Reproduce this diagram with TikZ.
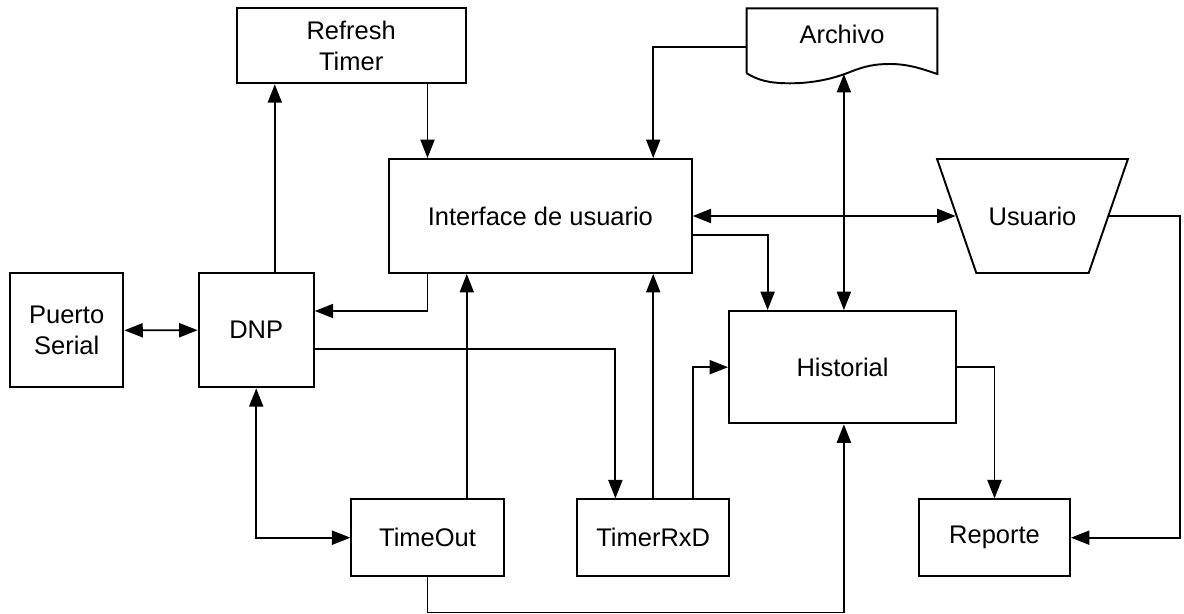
\documentclass[tikz,border=0pt]{standalone}
\usepackage{fontspec}
\setmainfont{Liberation Sans}
\usetikzlibrary{arrows.meta,shapes.geometric}

\begin{document}
\begin{tikzpicture}[
  x=0.02cm, y=-0.02cm,
  font=\fontsize{14.5}{17.7}\selectfont,
  box/.style={
    draw,
    line width=1.1pt,
    inner sep=0pt,
    align=center
  },
  arrow/.style={-{Triangle[length=10.5pt,width=8pt]},line width=1.1pt},
  biarrow/.style={{Triangle[length=10.5pt,width=8pt]}-{Triangle[length=10.5pt,width=8pt]},line width=1.1pt}
]
\useasboundingbox (0,0) rectangle (1184,614);
\node[box, minimum width=4.586cm, minimum height=1.5cm] (refresh) at (351.2,45.8) {Refresh\\Timer};
\node[box, minimum width=6.054cm, minimum height=2.28cm] (interface) at (540.35,216) {Interface de usuario};
\node[box, trapezium, trapezium left angle=71, trapezium right angle=71,
  shape border rotate=180, text width=2.248cm,
  text height=1.326cm, text depth=0.954cm] (usuario) at (1032.5,216) {Usuario};
\node[box, minimum width=2.266cm, minimum height=2.28cm] (puerto) at (66.7,330.3) {Puerto\\Serial};
\node[box, minimum width=2.304cm, minimum height=2.286cm] (dnp) at (256.2,330.2) {DNP};
\node[box, minimum width=4.54cm, minimum height=2.246cm] (historial) at (842.5,367.2) {Historial};
\node[box, minimum width=3.046cm, minimum height=1.534cm] (timeout) at (427.5,537.7) {TimeOut};
\node[box, minimum width=3.05cm, minimum height=1.534cm] (timerrxd) at (653.2,537.7) {TimerRxD};
\node[box, minimum width=3.02cm, minimum height=1.534cm] (reporte) at (994.5,537.7) {Reporte};
% archivo (documento)
\node (archivo) at (842,34) {Archivo};
\draw[line width=1.1pt] (746.7,73.3) -- (746.7,8.3) -- (937.3,8.3) -- (937.3,74)
  .. controls (925,70) and (910,64) .. (890,64)
  .. controls (875,64) and (865,66) .. (850,72)
  .. controls (835,78) and (815,83.3) .. (790,83.3)
  .. controls (768,83.3) and (758,80) .. (746.7,73.3);
\coordinate (arcL) at (746.7,46.7);
\coordinate (arcB) at (843.9,74);
% flujos
\draw[arrow] (dnp.north -| 274.8,0) -- (refresh.south -| 274.8,0);
\draw[arrow] (refresh.south -| timeout) -- (interface.north -| timeout);
\draw[arrow] (arcL) -| (interface.north -| timerrxd);
\draw[biarrow] (arcB) -- (historial.north -| arcB);
\draw[biarrow] (interface.east) -- (usuario.west);
\draw[arrow] (interface.east |- 0,235) -| (historial.north -| 767.6,0);
\draw[arrow] (usuario.east) -- (usuario.east -| 1180,0) |- (reporte.east);
\draw[arrow] (interface.south -| timeout) |- (dnp.east |- 0,311);
\draw[biarrow] (puerto.east) -- (dnp.west);
\draw[arrow] (dnp.east |- 0,349.3) -| (timerrxd.north -| 615.4,0);
\draw[arrow] (timeout.north -| refresh.east) -- (interface.south -| refresh.east);
\draw[biarrow] (dnp.south) |- (timeout.west);
\draw[arrow] (timerrxd.north) -- (interface.south -| timerrxd.north);
\draw[arrow] (timerrxd.north -| interface.east) |- (historial.west);
\draw[arrow] (historial.east) -| (reporte.north);
\draw[arrow] (timeout.south) -- ++(0,35.5) -| (historial.south -| arcB);
\end{tikzpicture}
\end{document}
